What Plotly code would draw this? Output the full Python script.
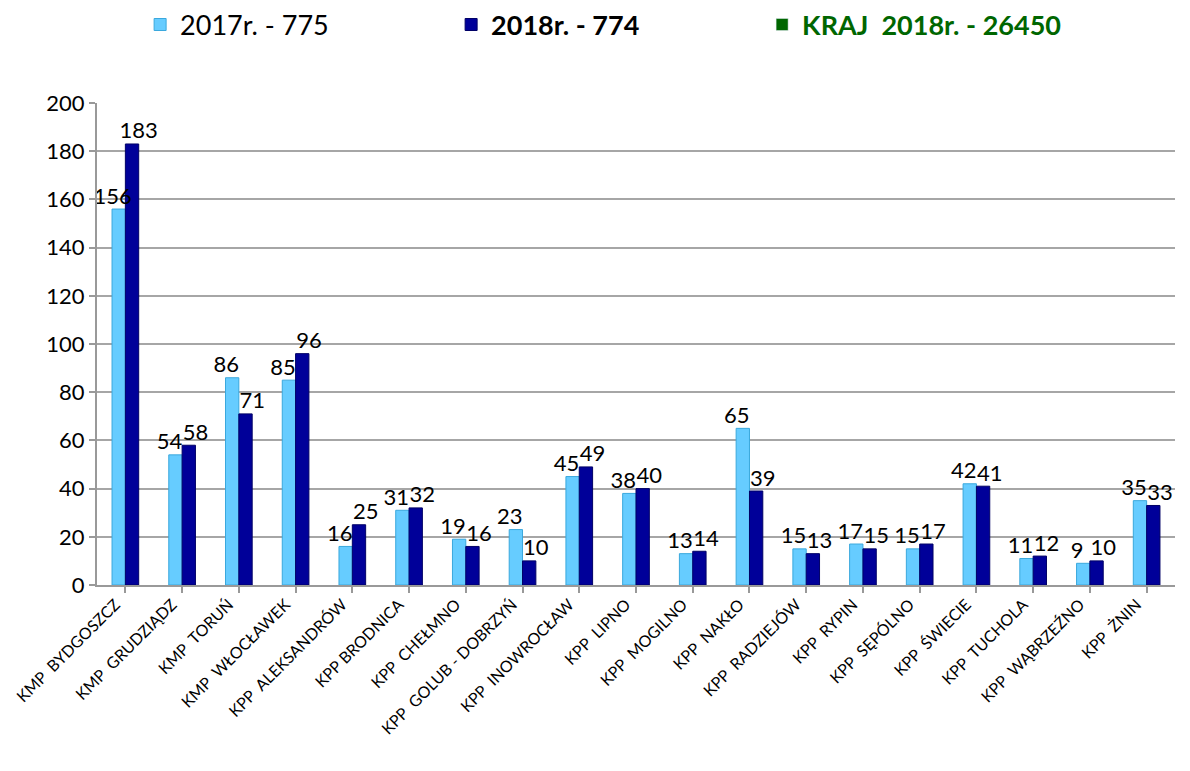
import plotly.graph_objects as go

categories = ["KMP  BYDGOSZCZ", "KMP  GRUDZIĄDZ", "KMP  TORUŃ", "KMP  WŁOCŁAWEK",
              "KPP  ALEKSANDRÓW", "KPP BRODNICA", "KPP  CHEŁMNO", "KPP  GOLUB - DOBRZYŃ",
              "KPP  INOWROCŁAW", "KPP  LIPNO", "KPP  MOGILNO", "KPP  NAKŁO",
              "KPP  RADZIEJÓW", "KPP  RYPIN", "KPP  SĘPÓLNO", "KPP  ŚWIECIE",
              "KPP  TUCHOLA", "KPP  WĄBRZEŹNO", "KPP  ŻNIN"]
values_2017 = [156, 54, 86, 85, 16, 31, 19, 23, 45, 38, 13, 65, 15, 17, 15, 42, 11, 9, 35]
values_2018 = [183, 58, 71, 96, 25, 32, 16, 10, 49, 40, 14, 39, 13, 15, 17, 41, 12, 10, 33]
legend_names = ["2017r. - 775", "<b>2018r. - 774</b>",
                "<b><span style='color:#006600'>KRAJ  2018r. - 26450</span></b>"]

cats = [c.replace("  ", "\u00a0 ") for c in categories]
BARGAP = 0.53
half = (1 - BARGAP) / 2
idx = list(range(len(cats)))

fig = go.Figure()
fig.add_trace(go.Bar(x=cats, y=values_2017, name=legend_names[0], offsetgroup="a",
                     marker=dict(color="#66CCFF", line=dict(color="#3AA8DD", width=1))))
fig.add_trace(go.Bar(x=cats, y=values_2018, name=legend_names[1], offsetgroup="b",
                     marker=dict(color="#000099", line=dict(color="#000066", width=1))))
fig.add_trace(go.Bar(x=[cats[0]], y=[None], name=legend_names[2], offsetgroup="a",
                     marker=dict(color="#006600"), showlegend=True))

# value labels drawn above all bars, on an overlaid numeric axis
fig.add_trace(go.Scatter(x=[i - half * 0.95 for i in idx], y=values_2017, xaxis="x2",
                         mode="text", text=[str(v) for v in values_2017],
                         textposition="top center", showlegend=False, cliponaxis=False,
                         textfont=dict(size=22, color="black"), hoverinfo="skip"))
fig.add_trace(go.Scatter(x=[i + half * 1.0 for i in idx], y=values_2018, xaxis="x2",
                         mode="text", text=[str(v) for v in values_2018],
                         textposition="top center", showlegend=False, cliponaxis=False,
                         textfont=dict(size=22, color="black"), hoverinfo="skip"))

fig.update_layout(
    width=1190, height=771,
    paper_bgcolor="white", plot_bgcolor="white",
    font=dict(family="Lato, Open Sans, sans-serif", color="black"),
    barmode="group", bargap=BARGAP, bargroupgap=0.0,
    margin=dict(l=89, r=23, t=95, b=194, autoexpand=False),
    legend=dict(orientation="h", x=0.04, y=0.978, yref="container", yanchor="middle",
                xanchor="left", font=dict(size=27), entrywidth=266,
                itemwidth=30, traceorder="normal"),
    xaxis=dict(tickangle=-45, tickfont=dict(size=16), showline=True,
               linecolor="#999999", linewidth=2, ticks="outside", ticklen=6,
               tickcolor="#999999", tickwidth=2, showgrid=False,
               ticklabelstandoff=-4, ticklabelshift=-10),
    xaxis2=dict(overlaying="x", range=[-0.5, len(cats) - 0.5], visible=False,
                showgrid=False, zeroline=False),
    yaxis=dict(range=[0, 200], dtick=20, tickfont=dict(size=22), showline=True,
               linecolor="#999999", linewidth=2, ticks="outside", ticklen=6,
               tickcolor="#999999", tickwidth=2, showgrid=True,
               gridcolor="#A6A6A6", gridwidth=2, zeroline=False),
)

fig.write_html("out.html")
